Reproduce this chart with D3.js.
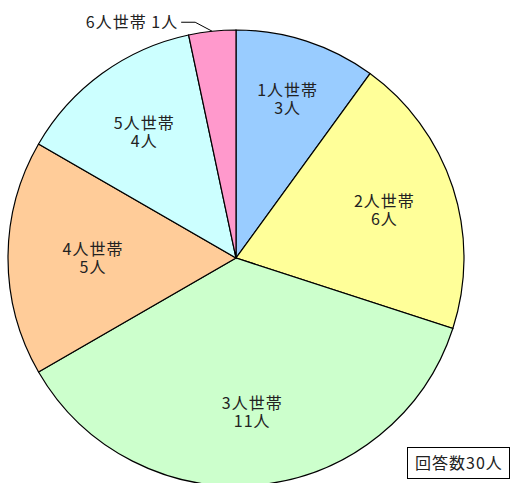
<!DOCTYPE html>
<html>
<head>
<meta charset="utf-8">
<script src="https://cdn.jsdelivr.net/npm/d3@7"></script>
<style>
  body { margin: 0; background: #fff; }
  svg { display: block; }
</style>
</head>
<body>
<div id="chart"></div>
<script>
const categories = ['1人世帯', '2人世帯', '3人世帯', '4人世帯', '5人世帯', '6人世帯'];
const counts = [3, 6, 11, 5, 4, 1];
const colors = ['#99ccff', '#ffff99', '#ccffcc', '#ffcc99', '#ccffff', '#ff99cc'];
const totalLabel = '回答数30人';

// layout: distance of each inside label from the pie centre
const labelRadius = [167, 156, 155, 143, 156, 0];

const width = 512, height = 483;
const cx = 236, cy = 258, radius = 228;
const font = '"Noto Sans CJK JP", "Noto Sans", sans-serif';
const fs = 16;

const svg = d3.select('#chart').append('svg')
  .attr('width', width)
  .attr('height', height);

const data = categories.map((c, i) => ({ cat: c, value: counts[i], color: colors[i], lr: labelRadius[i] }));

const pie = d3.pie().value(d => d.value).sort(null);
const arcs = pie(data);
const arc = d3.arc().innerRadius(0).outerRadius(radius);

const g = svg.append('g').attr('transform', `translate(${cx},${cy})`);

g.selectAll('path')
  .data(arcs)
  .join('path')
  .attr('d', arc)
  .attr('fill', d => d.data.color)
  .attr('stroke', '#000')
  .attr('stroke-width', 1.2);

// labels inside the slices (skip the tiny one)
const inside = arcs.filter(d => d.data.value > 1);
const lbl = g.selectAll('text.lbl')
  .data(inside)
  .join('text')
  .attr('class', 'lbl')
  .attr('transform', d => {
    const la = d3.arc().innerRadius(d.data.lr).outerRadius(d.data.lr);
    return `translate(${la.centroid(d)})`;
  })
  .attr('text-anchor', 'middle')
  .attr('font-family', font)
  .attr('font-size', fs)
  .attr('letter-spacing', 1)
  .attr('fill', '#222');
lbl.append('tspan').attr('x', 0).attr('y', -3).text(d => d.data.cat);
lbl.append('tspan').attr('x', 0).attr('y', 15).text(d => d.data.value + '人');

// small slice: label outside with leader line
const small = arcs.find(d => d.data.value === 1);
const mid = (small.startAngle + small.endAngle) / 2;
const px = Math.sin(mid) * radius, py = -Math.cos(mid) * radius;
g.append('polyline')
  .attr('points', [[px, py], [px - 17, py - 9], [px - 31, py - 9]].map(p => p.join(',')).join(' '))
  .attr('fill', 'none')
  .attr('stroke', '#000')
  .attr('stroke-width', 1);
g.append('text')
  .attr('x', px - 34)
  .attr('y', py - 3)
  .attr('text-anchor', 'end')
  .attr('font-family', font)
  .attr('font-size', fs)
  .attr('letter-spacing', 1)
  .attr('fill', '#222')
  .text(small.data.cat + ' ' + small.data.value + '人');

// total box
svg.append('rect')
  .attr('x', 407.5).attr('y', 447.5)
  .attr('width', 102).attr('height', 31)
  .attr('fill', '#fff')
  .attr('stroke', '#000')
  .attr('stroke-width', 1);
svg.append('text')
  .attr('x', 459).attr('y', 469)
  .attr('text-anchor', 'middle')
  .attr('font-family', font)
  .attr('font-size', fs)
  .attr('letter-spacing', 1)
  .attr('fill', '#222')
  .text(totalLabel);
</script>
</body>
</html>
